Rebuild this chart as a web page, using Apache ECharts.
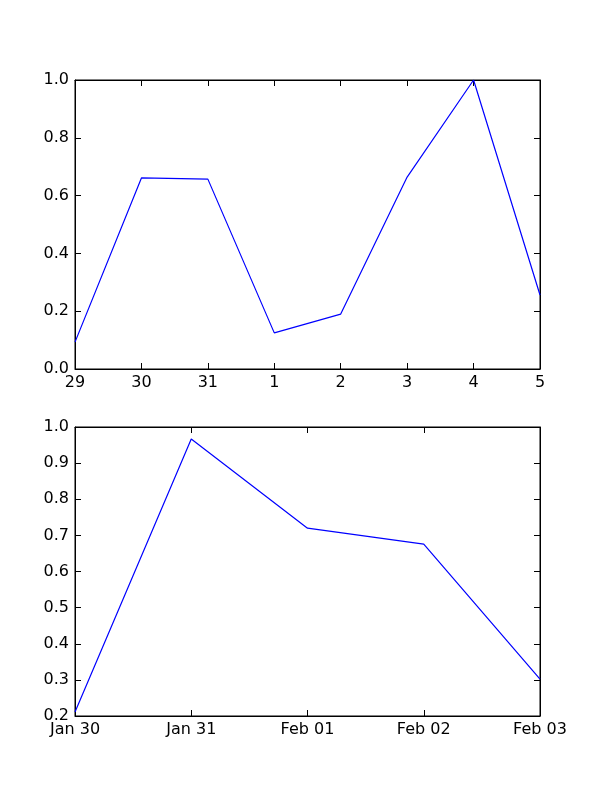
<!DOCTYPE html>
<html>
<head>
<meta charset="utf-8">
<script src="https://cdn.jsdelivr.net/npm/echarts@6/dist/echarts.min.js"></script>
<style>html,body{margin:0;padding:0;background:#fff}#chart{width:600px;height:797px}</style>
</head>
<body>
<div id="chart"></div>
<script>
var topDays = ['29', '30', '31', '1', '2', '3', '4', '5'];
var topValues = [0.093, 0.661, 0.657, 0.125, 0.19, 0.664, 1.0, 0.256];
var bottomDays = ['Jan 30', 'Jan 31', 'Feb 01', 'Feb 02', 'Feb 03'];
var bottomValues = [0.211, 0.967, 0.720, 0.676, 0.302];

var font = 'DejaVu Sans';
var lineStyle = {color: '#000', width: 1};

function xAxes(grid, cats) {
    return [{
        type: 'category', gridIndex: grid, data: cats, boundaryGap: false,
        axisLine: {show: true, lineStyle: lineStyle},
        axisTick: {show: true, inside: true, length: 6, interval: 0, lineStyle: lineStyle},
        axisLabel: {color: '#000', fontFamily: font, fontSize: 16, margin: 6, interval: 0},
        splitLine: {show: false}
    }, {
        type: 'category', gridIndex: grid, data: cats, boundaryGap: false, position: 'top',
        axisLine: {show: true, onZero: false, lineStyle: lineStyle},
        axisTick: {show: true, inside: true, length: 6, interval: 0, lineStyle: lineStyle},
        axisLabel: {show: false}
    }];
}
function yAxes(grid, min, max, step) {
    return [{
        type: 'value', gridIndex: grid, min: min, max: max, interval: step,
        axisLine: {show: true, lineStyle: lineStyle},
        axisTick: {show: true, inside: true, length: 6, lineStyle: lineStyle},
        axisLabel: {color: '#000', fontFamily: font, fontSize: 16, margin: 6,
            formatter: function (v) { return v.toFixed(1); }},
        splitLine: {show: false}
    }, {
        type: 'value', gridIndex: grid, min: min, max: max, interval: step, position: 'right',
        axisLine: {show: true, lineStyle: lineStyle},
        axisTick: {show: true, inside: true, length: 6, lineStyle: lineStyle},
        axisLabel: {show: false},
        splitLine: {show: false}
    }];
}

var chart = echarts.init(document.getElementById('chart'));
chart.setOption({
    animation: false,
    grid: [
        {left: 75, top: 80, width: 465, height: 289, show: true, borderColor: '#000', borderWidth: 1},
        {left: 75, top: 427, width: 465, height: 289, show: true, borderColor: '#000', borderWidth: 1}
    ],
    xAxis: xAxes(0, topDays).concat(xAxes(1, bottomDays)),
    yAxis: yAxes(0, 0, 1, 0.2).concat(yAxes(1, 0.2, 1, 0.1)),
    series: [{
        type: 'line', xAxisIndex: 0, yAxisIndex: 0, data: topValues,
        showSymbol: false, lineStyle: {color: '#0000ff', width: 1.2}
    }, {
        type: 'line', xAxisIndex: 2, yAxisIndex: 2, data: bottomValues,
        showSymbol: false, lineStyle: {color: '#0000ff', width: 1.2}
    }]
});
</script>
</body>
</html>
